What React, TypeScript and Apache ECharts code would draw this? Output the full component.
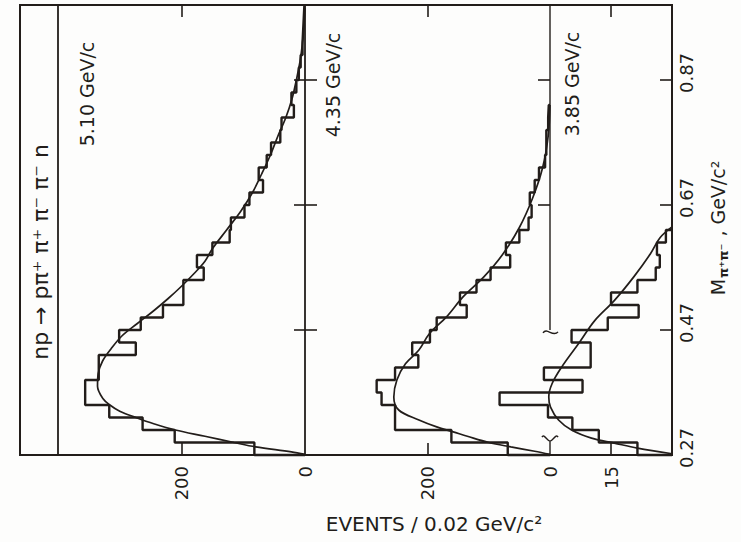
import React, { useEffect, useRef } from 'react';
import * as echarts from 'echarts';

// ---------- data ----------
const BIN_START = 0.27; // GeV/c^2, lower edge of the first bin
const BIN_WIDTH = 0.02; // GeV/c^2

// events per 0.02 GeV/c^2, bins from 0.27 upward
const hist510 = [82, 211, 263, 317, 356, 356, 334, 334, 274, 301, 266, 230, 197, 197, 164, 175, 150, 122, 120, 98, 90, 68, 75, 62, 55, 40, 38, 18, 22, 14, 10, 7, 4, 3, 2, 1];
const hist435 = [69, 161, 253, 253, 275, 283, 253, 215, 225, 196, 185, 136, 147, 120, 97, 65, 72, 50, 35, 30, 33, 25, 18, 8, 6, 6, 3, 2];
const hist385 = [8.5, 18, 24.5, 30.5, 42.4, 22, 31.5, 20, 20, 24.7, 15.8, 8.2, 15, 8.5, 4, 3, 3.7, 1.5];

// fitted curves (mass, events)
const curveM510 = [0.271, 0.275, 0.283, 0.29, 0.3, 0.31, 0.32, 0.33, 0.34, 0.35, 0.36, 0.38, 0.4, 0.42, 0.44, 0.46, 0.48, 0.5, 0.52, 0.54, 0.56, 0.58, 0.6, 0.63, 0.66, 0.69, 0.72, 0.75, 0.78, 0.81, 0.84, 0.87, 0.9, 0.93, 0.96, 0.985];
const curveN510 = [0, 22, 80, 115, 162, 210, 245, 274, 300, 316, 327, 336, 335, 328, 314, 297, 272, 246, 222, 200, 180, 162, 150, 127, 104, 85, 70, 56, 44, 31, 21, 14, 8, 4, 1.5, 0];
const curveM435 = [0.271, 0.276, 0.283, 0.29, 0.3, 0.307, 0.315, 0.326, 0.342, 0.363, 0.39, 0.416, 0.438, 0.464, 0.491, 0.523, 0.555, 0.59, 0.634, 0.682, 0.73, 0.78, 0.83];
const curveN435 = [0, 25, 64, 100, 135, 158, 185, 214, 247, 255, 250, 236, 214, 197, 169, 142, 108, 78, 50, 28, 12, 3, 0];
const curveM385 = [0.272, 0.281, 0.289, 0.297, 0.31, 0.326, 0.347, 0.363, 0.384, 0.411, 0.448, 0.485, 0.517, 0.555, 0.592, 0.618, 0.635];
const curveN385 = [0, 8.5, 14.2, 19.8, 24.7, 27.9, 29.9, 30.3, 29.5, 27.1, 23, 19, 14.2, 9.4, 5.3, 2.9, 0];

const massLabels = [0.27, 0.47, 0.67, 0.87];
const massTicks = [0.47, 0.67, 0.87];
const massTicksMid = [0.67, 0.87];
const MASS_MIN = 0.27;
const MASS_MAX = 0.99;

// the 3.85 GeV/c panel's scale runs past its frame so the tall bins can overlap the middle panel
const eventsMax = [400, 400, 45];
const eventLabels = [[0, 200], [0, 200], [15]];
const eventTicks = [[200], [200], [15]];

const momentumLabels = ['5.10 GeV/c', '4.35 GeV/c', '3.85 GeV/c'];
const reactionLabel = 'np → pπ⁺ π⁺ π⁻ π⁻ n';
const xTitle = 'EVENTS / 0.02 GeV/c²';

// ---------- layout ----------
const INK = '#221d1a';
const FONT = '"DejaVu Sans", "Liberation Sans", sans-serif';
const FRAME = { left: 20, top: 5, right: 672, bottom: 455 };
const LABEL_BOX_RIGHT = 58;
const PANEL2_LEFT = 305;
const PANEL3_LEFT = 550;
const PANEL3_PX_PER_EVENT = (FRAME.right - PANEL3_LEFT) / 30;
const GRIDS = [
  { left: LABEL_BOX_RIGHT, top: FRAME.top, width: PANEL2_LEFT - LABEL_BOX_RIGHT, height: FRAME.bottom - FRAME.top },
  { left: PANEL2_LEFT, top: FRAME.top, width: PANEL3_LEFT - PANEL2_LEFT, height: FRAME.bottom - FRAME.top },
  {
    left: FRAME.right - 45 * PANEL3_PX_PER_EVENT,
    top: FRAME.top,
    width: 45 * PANEL3_PX_PER_EVENT,
    height: FRAME.bottom - FRAME.top,
  },
];

function stepPoints(h: number[]) {
  const pts: number[][] = [[0, BIN_START]];
  let hi = BIN_START;
  h.forEach((v, i) => {
    const lo = +(BIN_START + i * BIN_WIDTH).toFixed(4);
    hi = +(BIN_START + (i + 1) * BIN_WIDTH).toFixed(4);
    pts.push([v, lo], [v, hi]);
  });
  pts.push([0, hi]);
  return pts;
}

function curvePoints(m: number[], n: number[]) {
  return m.map((mv, i) => [n[i], mv]);
}

export default function App() {
  const ref = useRef<HTMLDivElement>(null);

  useEffect(() => {
    if (!ref.current) return;
    const chart = echarts.init(ref.current, null, { renderer: 'svg' });

    const xAxes: any[] = [];
    GRIDS.forEach((_, g) => {
      const common = {
        type: 'value',
        gridIndex: g,
        min: 0,
        max: eventsMax[g],
        inverse: true,
        axisLine: { show: false },
        splitLine: { show: false },
      };
      xAxes.push({
        ...common,
        position: 'bottom',
        axisTick: { show: true, inside: true, length: 12, customValues: eventTicks[g], lineStyle: { color: INK, width: 1.6 } },
        axisLabel: {
          show: true,
          customValues: eventLabels[g],
          rotate: 90,
          margin: 11,
          color: INK,
          fontSize: 18,
          fontFamily: FONT,
          formatter: (v: number) => String(v),
        },
      });
      xAxes.push({
        ...common,
        position: 'top',
        axisTick: { show: true, inside: true, length: 12, customValues: eventTicks[g], lineStyle: { color: INK, width: 1.6 } },
        axisLabel: { show: false },
      });
    });

    const yCommon = {
      type: 'value',
      min: MASS_MIN,
      max: MASS_MAX,
      axisLine: { show: false },
      splitLine: { show: false },
    };
    const yAxes: any[] = [
      {
        ...yCommon, gridIndex: 0, position: 'left',
        axisTick: { inside: true, length: 12, customValues: massTicks, lineStyle: { color: INK, width: 1.6 } },
        axisLabel: { show: false },
      },
      {
        ...yCommon, gridIndex: 0, position: 'right',
        axisTick: { inside: true, length: 11, customValues: massTicks, lineStyle: { color: INK, width: 1.6 } },
        axisLabel: { show: false },
      },
      {
        ...yCommon, gridIndex: 1, position: 'right',
        axisTick: { inside: true, length: 12, customValues: massTicksMid, lineStyle: { color: INK, width: 1.6 } },
        axisLabel: { show: false },
      },
      {
        ...yCommon, gridIndex: 2, position: 'right',
        axisTick: { inside: true, length: 12, customValues: massTicks, lineStyle: { color: INK, width: 1.6 } },
        axisLabel: {
          show: true,
          customValues: massLabels,
          rotate: 90,
          margin: 5,
          padding: [0, 0, 0, 14],
          color: INK,
          fontSize: 18,
          fontFamily: FONT,
          formatter: (v: number) => v.toFixed(2),
        },
      },
    ];

    const hists = [hist510, hist435, hist385];
    const curves = [
      curvePoints(curveM510, curveN510),
      curvePoints(curveM435, curveN435),
      curvePoints(curveM385, curveN385),
    ];
    const yIdx = [0, 2, 3];
    const series: any[] = [];
    hists.forEach((h, g) => {
      series.push({
        type: 'line',
        xAxisIndex: g * 2,
        yAxisIndex: yIdx[g],
        data: stepPoints(h),
        symbol: 'none',
        silent: true,
        clip: false,
        lineStyle: { color: INK, width: 2.4 },
        z: 3,
      });
      series.push({
        type: 'line',
        xAxisIndex: g * 2,
        yAxisIndex: yIdx[g],
        data: curves[g],
        smooth: 0.35,
        symbol: 'none',
        silent: true,
        clip: false,
        lineStyle: { color: INK, width: 1.7 },
        z: 4,
      });
    });

    const H = FRAME.bottom - FRAME.top;
    const yOf = (m: number) => FRAME.top + ((MASS_MAX - m) / (MASS_MAX - MASS_MIN)) * H;
    const breakTop = yOf(0.467);
    const breakBot = yOf(0.297);
    const bx = PANEL3_LEFT;
    const lineStyle = { stroke: INK, lineWidth: 1.8, fill: 'none' };
    const thin = { ...lineStyle, lineWidth: 1.4 };

    const textStyle = (text: string, size: number) => ({
      text,
      fill: INK,
      fontSize: size,
      fontFamily: FONT,
      align: 'center',
      verticalAlign: 'middle',
      textAlign: 'center',
      textVerticalAlign: 'middle',
    });

    const graphic: any[] = [
      { type: 'rect', shape: { x: FRAME.left, y: FRAME.top, width: FRAME.right - FRAME.left, height: H }, style: { ...lineStyle, lineWidth: 2 }, silent: true, z: 5 },
      { type: 'line', shape: { x1: LABEL_BOX_RIGHT, y1: FRAME.top, x2: LABEL_BOX_RIGHT, y2: FRAME.bottom }, style: lineStyle, silent: true, z: 5 },
      { type: 'line', shape: { x1: PANEL2_LEFT, y1: FRAME.top, x2: PANEL2_LEFT, y2: FRAME.bottom }, style: lineStyle, silent: true, z: 5 },
      { type: 'line', shape: { x1: bx, y1: FRAME.top, x2: bx, y2: breakTop - 2 }, style: thin, silent: true, z: 5 },
      { type: 'bezierCurve', shape: { x1: bx - 7, y1: breakTop + 1, cpx1: bx - 3, cpy1: breakTop - 5, cpx2: bx + 3, cpy2: breakTop + 6, x2: bx + 8, y2: breakTop }, style: thin, silent: true, z: 5 },
      { type: 'line', shape: { x1: bx, y1: breakBot + 3, x2: bx, y2: FRAME.bottom }, style: thin, silent: true, z: 5 },
      { type: 'bezierCurve', shape: { x1: bx - 8, y1: breakBot - 1, cpx1: bx - 6, cpy1: breakBot - 5, cpx2: bx - 3, cpy2: breakBot + 3, x2: bx, y2: breakBot + 3 }, style: thin, silent: true, z: 5 },
      { type: 'bezierCurve', shape: { x1: bx + 8, y1: breakBot - 1, cpx1: bx + 6, cpy1: breakBot - 5, cpx2: bx + 3, cpy2: breakBot + 3, x2: bx, y2: breakBot + 3 }, style: thin, silent: true, z: 5 },
      { type: 'text', x: 87, y: 94, rotation: Math.PI / 2, style: textStyle(momentumLabels[0], 19), silent: true, z: 6 },
      { type: 'text', x: 333, y: 85, rotation: Math.PI / 2, style: textStyle(momentumLabels[1], 19), silent: true, z: 6 },
      { type: 'text', x: 572, y: 84, rotation: Math.PI / 2, style: textStyle(momentumLabels[2], 19), silent: true, z: 6 },
      { type: 'text', x: 40, y: 252, rotation: Math.PI / 2, style: textStyle(reactionLabel, 22), silent: true, z: 6 },
      { type: 'text', x: 434, y: 524, style: textStyle(xTitle, 20), silent: true, z: 6 },
      {
        type: 'text', x: 718, y: 228, rotation: Math.PI / 2, silent: true, z: 6,
        style: {
          text: '{m|M}{s|π⁺π⁻}{m| , GeV/c²}',
          fill: INK,
          align: 'center',
          verticalAlign: 'middle',
          textAlign: 'center',
          textVerticalAlign: 'middle',
          fontFamily: FONT,
          fontSize: 19,
          rich: {
            m: { fontSize: 19, fontFamily: FONT, fill: INK, color: INK },
            s: { fontSize: 13, fontFamily: FONT, fontWeight: 'bold', fill: INK, color: INK, padding: [10, 1, 0, 1] },
          },
        },
      },
    ];

    chart.setOption({
      animation: false,
      backgroundColor: '#fdfdfc',
      grid: GRIDS.map((g) => ({ ...g, containLabel: false, outerBoundsMode: 'none', show: false })),
      xAxis: xAxes,
      yAxis: yAxes,
      series,
      graphic,
    });

    return () => chart.dispose();
  }, []);

  return (
    <div
      ref={ref}
      style={{ position: 'fixed', left: 0, top: 0, width: 741, height: 542, background: '#fdfdfc' }}
    />
  );
}
